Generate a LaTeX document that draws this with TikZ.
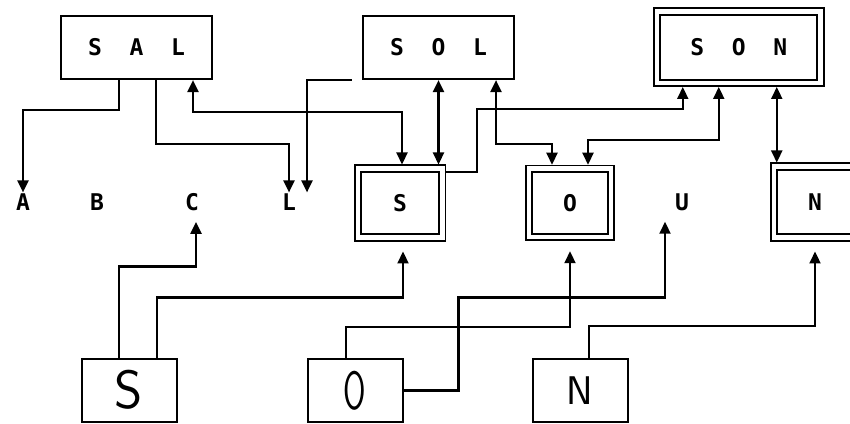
\documentclass[tikz,border=0pt]{standalone}
\usepackage{fontspec}
\usepackage{graphicx}
\newfontfamily\plotfont{DejaVu Sans Mono}
\usetikzlibrary{arrows.meta}

\begin{document}
\begin{tikzpicture}[x=1pt,y=1pt,
  >={Triangle[length=12pt,width=11pt]},
  wire/.style={line width=2.2pt},
  upward/.style={wire,->,shorten >=10pt},
  wordbox/.style={draw,line width=2.2pt,inner sep=0pt,
    minimum width=151pt,minimum height=63pt,
    font=\plotfont\bfseries\fontsize{23}{23}\selectfont},
  unitbox/.style={draw,double,double distance=4.5pt,line width=1.8pt,
    outer sep=4pt,inner sep=0pt,
    font=\plotfont\bfseries\fontsize{23}{23}\selectfont},
  inbox/.style={draw,line width=2pt,inner sep=0pt,
    minimum width=95pt,minimum height=63pt,
    font=\sffamily\fontsize{54}{54}\selectfont},
  letter/.style={inner sep=1pt,font=\plotfont\bfseries\fontsize{23}{23}\selectfont}]
  \useasboundingbox (0,0) rectangle (850,423);
  \clip (0,0) rectangle (850,423);

  % word units
  \node[wordbox] (SAL) at (136.5,375.5) {S\ \ A\ \ L};
  \node[wordbox] (SOL) at (438.5,375.5) {S\ \ O\ \ L};
  \node[unitbox,minimum width=163.5pt,minimum height=71.5pt]
    (SON) at (738.75,375.75) {S\ \ O\ \ N};

  % letter units
  \node[letter] (A) at (23,221) {A};
  \node[letter] (B) at (97,221) {B};
  \node[letter] (C) at (192,221) {C};
  \node[letter] (L) at (289,221) {L};
  \node[unitbox,minimum width=84.5pt,minimum height=69pt]
    (S) at (400,220) {S};
  \node[unitbox,minimum width=82pt,minimum height=68.5pt]
    (O) at (570,220) {O};
  \node[letter] (U) at (682,221) {U};
  \node[unitbox,minimum width=82pt,minimum height=71pt]
    (N) at (815,221) {N};

  % input features
  \node[inbox] (Sin) at (129,33) {S};
  \node[inbox] (Oin) at (355,32.5) {\scalebox{0.6}[1]{O}};
  \node[inbox,font=\sffamily\fontsize{40}{40}\selectfont]
    (Nin) at (580,32.5) {N};

  % top-down links
  \draw[wire,->] ([xshift=-17.5pt]SAL.south) -- ++(0,-30) -| (A.north);
  \draw[wire,->] ([xshift=19.5pt]SAL.south) -- ++(0,-64) -| (L.north);
  \draw[wire,<->] ([xshift=56.5pt]SAL.south) -- ++(0,-32)
    -| ([xshift=2pt]S.north);
  \draw[wire,->] ([xshift=-10pt]SOL.south west) -| ([xshift=18pt]L.north);
  \draw[wire,<->] (SOL.south) -- (SOL.south |- S.north);
  \draw[wire,<->] ([xshift=57.5pt]SOL.south) -- ++(0,-64)
    -| ([xshift=-18pt]O.north);
  \draw[wire,->] ([yshift=31pt]S.east) -| ++(31,63)
    -| ([xshift=-56pt]SON.south);
  \draw[wire,<->] ([xshift=-20pt]SON.south) -- ++(0,-53)
    -| ([xshift=18pt]O.north);
  \draw[wire,<->] ([xshift=38pt]SON.south) -- ([xshift=38pt]SON.south |- N.north);

  % bottom-up links
  \draw[upward] ([xshift=-10pt]Sin.north) -- ++(0,91) -| ([xshift=4pt]C.south);
  \draw[upward] ([xshift=28pt]Sin.north) -- ++(0,60) -| ([xshift=3pt]S.south);
  \draw[upward] ([xshift=-9pt]Oin.north) -- ++(0,31) -| (O.south);
  \draw[upward] (Oin.east) -| ++(55,93) -| ([xshift=-17pt]U.south);
  \draw[upward] ([xshift=9pt]Nin.north) -- ++(0,32) -| (N.south);
\end{tikzpicture}
\end{document}
